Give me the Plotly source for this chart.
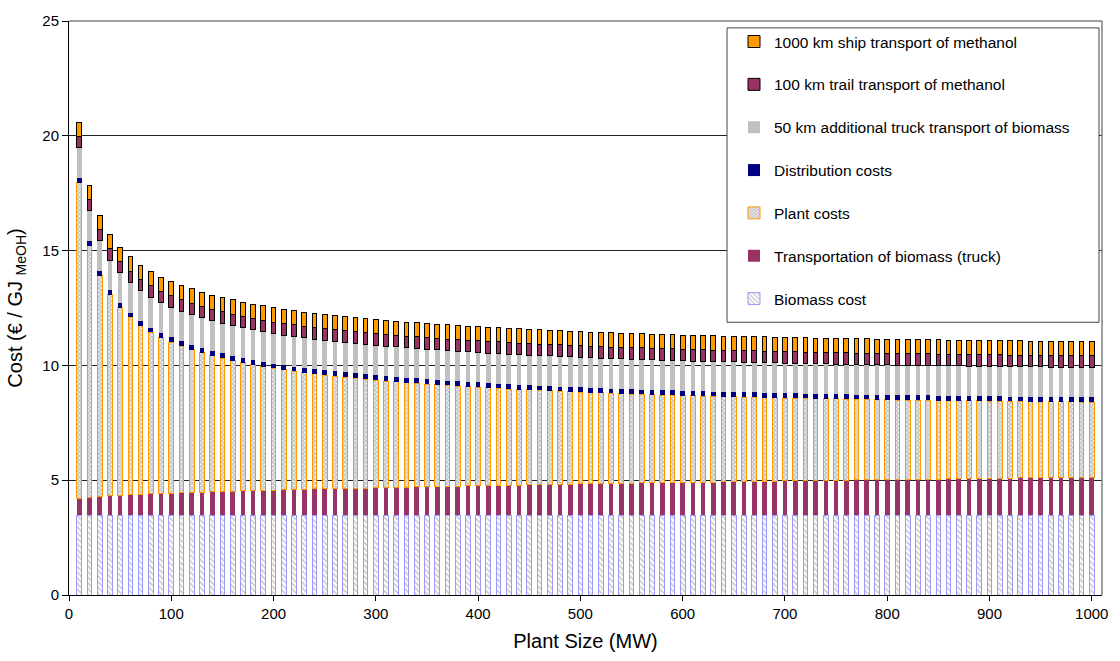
import plotly.graph_objects as go

plant_size = [10, 20, 30, 40, 50, 60, 70, 80, 90, 100,
              110, 120, 130, 140, 150, 160, 170, 180, 190, 200,
              210, 220, 230, 240, 250, 260, 270, 280, 290, 300,
              310, 320, 330, 340, 350, 360, 370, 380, 390, 400,
              410, 420, 430, 440, 450, 460, 470, 480, 490, 500,
              510, 520, 530, 540, 550, 560, 570, 580, 590, 600,
              610, 620, 630, 640, 650, 660, 670, 680, 690, 700,
              710, 720, 730, 740, 750, 760, 770, 780, 790, 800,
              810, 820, 830, 840, 850, 860, 870, 880, 890, 900,
              910, 920, 930, 940, 950, 960, 970, 980, 990, 1000]

biomass_cost = [3.47, 3.47, 3.47, 3.47, 3.47, 3.47, 3.47, 3.47, 3.47, 3.47,
                3.47, 3.47, 3.47, 3.47, 3.47, 3.47, 3.47, 3.47, 3.47, 3.47,
                3.47, 3.47, 3.47, 3.47, 3.47, 3.47, 3.47, 3.47, 3.47, 3.47,
                3.47, 3.47, 3.47, 3.47, 3.47, 3.47, 3.47, 3.47, 3.47, 3.47,
                3.47, 3.47, 3.47, 3.47, 3.47, 3.47, 3.47, 3.47, 3.47, 3.47,
                3.47, 3.47, 3.47, 3.47, 3.47, 3.47, 3.47, 3.47, 3.47, 3.47,
                3.47, 3.47, 3.47, 3.47, 3.47, 3.47, 3.47, 3.47, 3.47, 3.47,
                3.47, 3.47, 3.47, 3.47, 3.47, 3.47, 3.47, 3.47, 3.47, 3.47,
                3.47, 3.47, 3.47, 3.47, 3.47, 3.47, 3.47, 3.47, 3.47, 3.47,
                3.47, 3.47, 3.47, 3.47, 3.47, 3.47, 3.47, 3.47, 3.47, 3.47]

truck_transport = [0.75, 0.79, 0.83, 0.85, 0.88, 0.90, 0.92, 0.94, 0.95, 0.97,
                   0.99, 1.00, 1.01, 1.03, 1.04, 1.05, 1.07, 1.08, 1.09, 1.10,
                   1.11, 1.12, 1.14, 1.15, 1.16, 1.17, 1.18, 1.19, 1.19, 1.20,
                   1.21, 1.22, 1.23, 1.24, 1.25, 1.26, 1.27, 1.27, 1.28, 1.29,
                   1.30, 1.31, 1.31, 1.32, 1.33, 1.34, 1.34, 1.35, 1.36, 1.37,
                   1.37, 1.38, 1.39, 1.39, 1.40, 1.41, 1.41, 1.42, 1.43, 1.43,
                   1.44, 1.45, 1.45, 1.46, 1.47, 1.47, 1.48, 1.48, 1.49, 1.50,
                   1.50, 1.51, 1.51, 1.52, 1.53, 1.53, 1.54, 1.54, 1.55, 1.56,
                   1.56, 1.57, 1.57, 1.58, 1.58, 1.59, 1.59, 1.60, 1.60, 1.61,
                   1.62, 1.62, 1.63, 1.63, 1.64, 1.64, 1.65, 1.65, 1.66, 1.66]

plant_costs = [13.74, 10.95, 9.60, 8.75, 8.16, 7.72, 7.34, 7.03, 6.78, 6.57,
               6.38, 6.22, 6.07, 5.92, 5.80, 5.69, 5.57, 5.48, 5.39, 5.30,
               5.22, 5.15, 5.07, 5.01, 4.95, 4.89, 4.84, 4.78, 4.74, 4.69,
               4.64, 4.60, 4.55, 4.51, 4.47, 4.43, 4.39, 4.36, 4.32, 4.29,
               4.25, 4.22, 4.19, 4.16, 4.13, 4.10, 4.08, 4.05, 4.02, 3.99,
               3.97, 3.95, 3.92, 3.91, 3.88, 3.86, 3.84, 3.82, 3.80, 3.78,
               3.76, 3.74, 3.73, 3.71, 3.69, 3.68, 3.66, 3.65, 3.63, 3.61,
               3.60, 3.58, 3.57, 3.56, 3.54, 3.53, 3.51, 3.51, 3.49, 3.47,
               3.46, 3.45, 3.44, 3.43, 3.42, 3.40, 3.40, 3.38, 3.38, 3.36,
               3.35, 3.34, 3.33, 3.32, 3.31, 3.30, 3.29, 3.29, 3.27, 3.27]

distribution_costs = [0.21, 0.21, 0.21, 0.21, 0.21, 0.21, 0.21, 0.21, 0.21, 0.21,
                      0.21, 0.21, 0.21, 0.21, 0.21, 0.21, 0.21, 0.21, 0.21, 0.21,
                      0.21, 0.21, 0.21, 0.21, 0.21, 0.21, 0.21, 0.21, 0.21, 0.21,
                      0.21, 0.21, 0.21, 0.21, 0.21, 0.21, 0.21, 0.21, 0.21, 0.21,
                      0.21, 0.21, 0.21, 0.21, 0.21, 0.21, 0.21, 0.21, 0.21, 0.21,
                      0.21, 0.21, 0.21, 0.21, 0.21, 0.21, 0.21, 0.21, 0.21, 0.21,
                      0.21, 0.21, 0.21, 0.21, 0.21, 0.21, 0.21, 0.21, 0.21, 0.21,
                      0.21, 0.21, 0.21, 0.21, 0.21, 0.21, 0.21, 0.21, 0.21, 0.21,
                      0.21, 0.21, 0.21, 0.21, 0.21, 0.21, 0.21, 0.21, 0.21, 0.21,
                      0.21, 0.21, 0.21, 0.21, 0.21, 0.21, 0.21, 0.21, 0.21, 0.21]

extra_truck_50km = [1.31, 1.31, 1.31, 1.31, 1.31, 1.31, 1.31, 1.31, 1.31, 1.31,
                    1.31, 1.31, 1.31, 1.31, 1.31, 1.31, 1.31, 1.31, 1.31, 1.31,
                    1.31, 1.31, 1.31, 1.31, 1.31, 1.31, 1.31, 1.31, 1.31, 1.31,
                    1.31, 1.31, 1.31, 1.31, 1.31, 1.31, 1.31, 1.31, 1.31, 1.31,
                    1.31, 1.31, 1.31, 1.31, 1.31, 1.31, 1.31, 1.31, 1.31, 1.31,
                    1.31, 1.31, 1.31, 1.31, 1.31, 1.31, 1.31, 1.31, 1.31, 1.31,
                    1.31, 1.31, 1.31, 1.31, 1.31, 1.31, 1.31, 1.31, 1.31, 1.31,
                    1.31, 1.31, 1.31, 1.31, 1.31, 1.31, 1.31, 1.31, 1.31, 1.31,
                    1.31, 1.31, 1.31, 1.31, 1.31, 1.31, 1.31, 1.31, 1.31, 1.31,
                    1.31, 1.31, 1.31, 1.31, 1.31, 1.31, 1.31, 1.31, 1.31, 1.31]

trail_100km = [0.50, 0.50, 0.50, 0.50, 0.50, 0.50, 0.50, 0.50, 0.50, 0.50,
               0.50, 0.50, 0.50, 0.50, 0.50, 0.50, 0.50, 0.50, 0.50, 0.50,
               0.50, 0.50, 0.50, 0.50, 0.50, 0.50, 0.50, 0.50, 0.50, 0.50,
               0.50, 0.50, 0.50, 0.50, 0.50, 0.50, 0.50, 0.50, 0.50, 0.50,
               0.50, 0.50, 0.50, 0.50, 0.50, 0.50, 0.50, 0.50, 0.50, 0.50,
               0.50, 0.50, 0.50, 0.50, 0.50, 0.50, 0.50, 0.50, 0.50, 0.50,
               0.50, 0.50, 0.50, 0.50, 0.50, 0.50, 0.50, 0.50, 0.50, 0.50,
               0.50, 0.50, 0.50, 0.50, 0.50, 0.50, 0.50, 0.50, 0.50, 0.50,
               0.50, 0.50, 0.50, 0.50, 0.50, 0.50, 0.50, 0.50, 0.50, 0.50,
               0.50, 0.50, 0.50, 0.50, 0.50, 0.50, 0.50, 0.50, 0.50, 0.50]

ship_1000km = [0.62, 0.62, 0.62, 0.62, 0.62, 0.62, 0.62, 0.62, 0.62, 0.62,
               0.62, 0.62, 0.62, 0.62, 0.62, 0.62, 0.62, 0.62, 0.62, 0.62,
               0.62, 0.62, 0.62, 0.62, 0.62, 0.62, 0.62, 0.62, 0.62, 0.62,
               0.62, 0.62, 0.62, 0.62, 0.62, 0.62, 0.62, 0.62, 0.62, 0.62,
               0.62, 0.62, 0.62, 0.62, 0.62, 0.62, 0.62, 0.62, 0.62, 0.62,
               0.62, 0.62, 0.62, 0.62, 0.62, 0.62, 0.62, 0.62, 0.62, 0.62,
               0.62, 0.62, 0.62, 0.62, 0.62, 0.62, 0.62, 0.62, 0.62, 0.62,
               0.62, 0.62, 0.62, 0.62, 0.62, 0.62, 0.62, 0.62, 0.62, 0.62,
               0.62, 0.62, 0.62, 0.62, 0.62, 0.62, 0.62, 0.62, 0.62, 0.62,
               0.62, 0.62, 0.62, 0.62, 0.62, 0.62, 0.62, 0.62, 0.62, 0.62]

x_ticks = [0, 100, 200, 300, 400, 500, 600, 700, 800, 900, 1000]
y_ticks = [0, 5, 10, 15, 20, 25]

FONT = "Liberation Sans, Arial, sans-serif"
BAR_W = 4.6

series = [
    ("Biomass cost", biomass_cost,
     dict(color="white", line=dict(color="#9999FF", width=1),
          pattern=dict(shape="\\", fgcolor="#9a9a9a", bgcolor="white",
                       size=4, solidity=0.45, fillmode="overlay"))),
    ("Transportation of biomass (truck)", truck_transport,
     dict(color="#993366", line=dict(width=0))),
    ("Plant costs", plant_costs,
     dict(color="white", line=dict(color="#FF9900", width=1),
          pattern=dict(shape="x", fgcolor="#8c8c8c", bgcolor="white",
                       size=3, solidity=0.75, fillmode="overlay"))),
    ("Distribution costs", distribution_costs,
     dict(color="#000080", line=dict(width=0))),
    ("50 km additional truck transport of biomass", extra_truck_50km,
     dict(color="#C0C0C0", line=dict(width=0))),
    ("100 km trail transport of methanol", trail_100km,
     dict(color="#993366", line=dict(color="black", width=1))),
    ("1000 km ship transport of methanol", ship_1000km,
     dict(color="#FF9900", line=dict(color="black", width=1))),
]

fig = go.Figure()
n = len(series)
for i, (name, vals, marker) in enumerate(series):
    fig.add_trace(go.Bar(
        x=plant_size, y=vals, name=name, width=BAR_W,
        marker=marker, legendgroup=name, legendrank=n - i,
    ))

# plot-area geometry in pixels
L, R, T, B = 69, 18, 12, 66
W, H = 1120, 661
pw, ph = W - L - R, H - T - B

def px_x(p):
    return (p - L) / pw

def px_y(p):
    return (H - B - p) / ph

fig.update_layout(
    width=W, height=H,
    margin=dict(l=L, r=R, t=T, b=B, pad=0),
    barmode="stack",
    plot_bgcolor="white", paper_bgcolor="white",
    font=dict(family=FONT, size=14, color="black"),
    showlegend=True,
    legend=dict(
        x=px_x(734), y=px_y(16), xanchor="left", yanchor="top",
        bgcolor="rgba(0,0,0,0)", borderwidth=0,
        traceorder="grouped", tracegroupgap=19.7,
        font=dict(family=FONT, size=15.5, color="black"),
    ),
    xaxis=dict(
        range=[0, 1010], tickvals=x_ticks, ticks="outside", ticklen=5,
        tickcolor="black", showline=True, linecolor="black", linewidth=1,
        showgrid=False, zeroline=False,
        tickfont=dict(size=15),
        title=dict(text="Plant Size (MW)", font=dict(size=20), standoff=12),
    ),
    yaxis=dict(
        range=[0, 25], tickvals=y_ticks, ticks="outside", ticklen=6,
        tickcolor="black", showline=True, linecolor="black", linewidth=1,
        showgrid=True, gridcolor="#222222", gridwidth=1, zeroline=False,
        tickfont=dict(size=15),
        title=dict(text="Cost (€ / GJ <sub>MeOH</sub>)", font=dict(size=20), standoff=14),
    ),
    shapes=[
        dict(type="line", xref="paper", yref="paper", x0=0, x1=1, y0=1, y1=1,
             line=dict(color="#808080", width=1.5), layer="above"),
        dict(type="line", xref="paper", yref="paper", x0=1, x1=1, y0=0, y1=1,
             line=dict(color="#808080", width=1.5), layer="above"),
        dict(type="rect", xref="paper", yref="paper",
             x0=px_x(727), x1=px_x(1099), y0=px_y(318), y1=px_y(19),
             line=dict(color="#444444", width=1), fillcolor="white", layer="above"),
    ],
)

fig.write_html("out.html")
